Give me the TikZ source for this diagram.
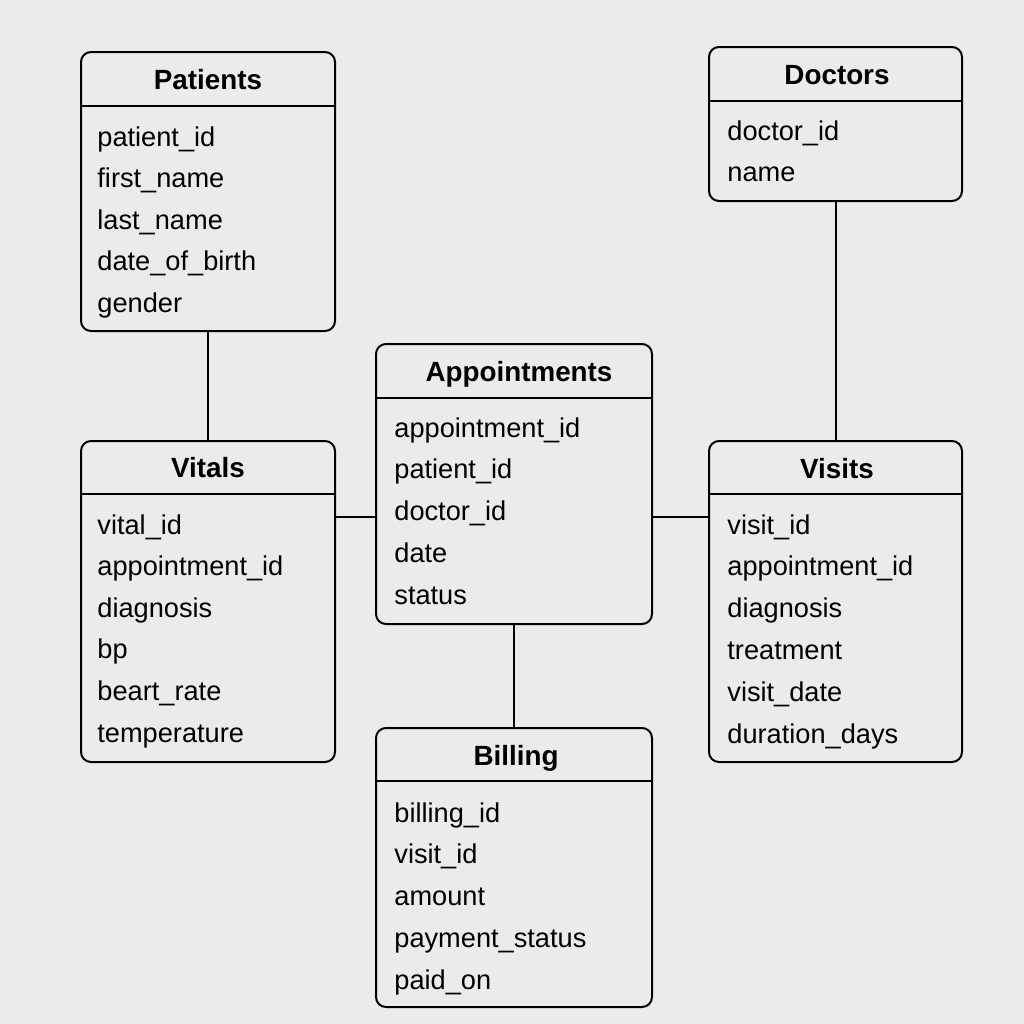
\documentclass[tikz,border=0pt]{standalone}
\usepackage{fontspec}
\setmainfont{Liberation Sans}
\usetikzlibrary{calc}

\definecolor{paper}{HTML}{EBEBEB}

\tikzset{
	tbl/.style={draw=black,line width=1pt,rounded corners=5pt,fill=paper,inner sep=0pt},
	ttl/.style={font=\fontsize{13.9}{16}\selectfont\bfseries,inner sep=0pt,text height=0.75em,text depth=0.25em},
	fld/.style={font=\fontsize{13.6}{16}\selectfont,anchor=west,inner sep=0pt,text height=0.75em,text depth=0.25em},
	link/.style={draw=black,line width=1pt}
}

\begin{document}
\begin{tikzpicture}[x=0.5pt,y=-0.5pt]

	\fill[paper] (0,0) rectangle (1024,1024);
	\useasboundingbox (0,0) rectangle (1024,1024);

	% tables
	\node[tbl,minimum width=127pt,minimum height=139.5pt] (patients) at (208,191.5) {};
	\node[tbl,minimum width=126.5pt,minimum height=77pt] (doctors) at (835.5,124) {};
	\node[tbl,minimum width=138pt,minimum height=140pt] (appointments) at (514,484) {};
	\node[tbl,minimum width=127pt,minimum height=160.5pt] (vitals) at (208,601.5) {};
	\node[tbl,minimum width=126.5pt,minimum height=160.5pt] (visits) at (835.5,601.5) {};
	\node[tbl,minimum width=138pt,minimum height=139.5pt] (billing) at (514,867.5) {};

	% header lines
	\draw[line width=1pt] (patients.west |- 0,106) -- (patients.east |- 0,106);
	\draw[line width=1pt] (doctors.west |- 0,101) -- (doctors.east |- 0,101);
	\draw[line width=1pt] (appointments.west |- 0,398) -- (appointments.east |- 0,398);
	\draw[line width=1pt] (vitals.west |- 0,494) -- (vitals.east |- 0,494);
	\draw[line width=1pt] (visits.west |- 0,494) -- (visits.east |- 0,494);
	\draw[line width=1pt] (billing.west |- 0,781) -- (billing.east |- 0,781);

	% titles
	\node[ttl] (patients-t) at (208,84) {Patients};
	\node[ttl] (doctors-t) at (837,79) {Doctors};
	\node[ttl] (appointments-t) at (519,376) {Appointments};
	\node[ttl] (vitals-t) at (208,472) {Vitals};
	\node[ttl] (visits-t) at (837,473) {Visits};
	\node[ttl] (billing-t) at (516,760) {Billing};

	% fields
	\foreach \f [count=\i] in {patient\_id,first\_name,last\_name,date\_of\_birth,gender}
		\node[fld] (patients-\i) at (97,{141+41.5*(\i-1)}) {\f};
	\foreach \f [count=\i] in {doctor\_id,name}
		\node[fld] (doctors-\i) at (727,{135+41*(\i-1)}) {\f};
	\foreach \f [count=\i] in {appointment\_id,patient\_id,doctor\_id,date,status}
		\node[fld] (appointments-\i) at (394,{432+41.75*(\i-1)}) {\f};
	\foreach \f [count=\i] in {vital\_id,appointment\_id,diagnosis,bp,beart\_rate,temperature}
		\node[fld] (vitals-\i) at (97,{529+41.6*(\i-1)}) {\f};
	\foreach \f [count=\i] in {visit\_id,appointment\_id,diagnosis,treatment,visit\_date,duration\_days}
		\node[fld] (visits-\i) at (727,{529+41.8*(\i-1)}) {\f};
	\foreach \f [count=\i] in {billing\_id,visit\_id,amount,payment\_status,paid\_on}
		\node[fld] (billing-\i) at (394,{817+41.75*(\i-1)}) {\f};

	% relations
	\draw[link] (patients.south) -- (vitals.north);
	\draw[link] (doctors.south) -- (visits.north);
	\draw[link] (vitals.east |- 0,517) -- (appointments.west |- 0,517);
	\draw[link] (appointments.east |- 0,517) -- (visits.west |- 0,517);
	\draw[link] (appointments.south) -- (billing.north);

\end{tikzpicture}
\end{document}
